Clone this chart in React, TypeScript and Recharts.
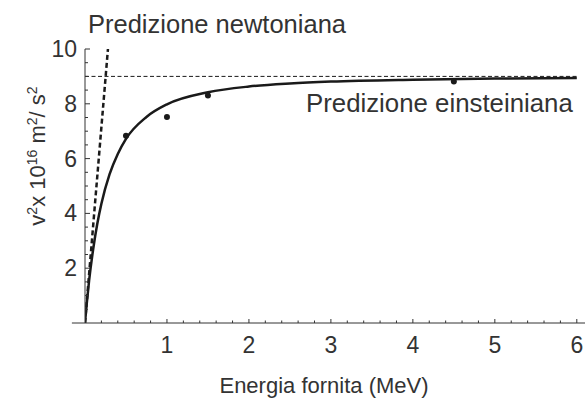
import React from "react";
import {
  ComposedChart,
  Line,
  Scatter,
  XAxis,
  YAxis,
  ReferenceLine,
} from "recharts";

// energia cinetica (MeV) e v^2 (x 10^16 m^2/s^2)
const curveEnergy = [0, 0.02, 0.05, 0.1, 0.15, 0.2, 0.3, 0.4, 0.5, 0.75, 1, 1.5, 2, 2.5, 3, 4, 5, 6];
const curveV2 = [0, 0.67, 1.55, 2.7, 3.62, 4.35, 5.43, 6.17, 6.72, 7.52, 7.98, 8.42, 8.63, 8.74, 8.81, 8.88, 8.92, 8.94];

const newtonEnergy = [0, 0.28];
const newtonV2 = [0, 10];

const measuredEnergy = [0.5, 1, 1.5, 4.5];
const measuredV2 = [6.83, 7.52, 8.3, 8.81];

const cSquared = 9;

const xMajor = [1, 2, 3, 4, 5, 6];
const yMajor = [2, 4, 6, 8, 10];
const xTicks = Array.from({ length: 30 }, (_, i) => Math.round((i + 1) * 2) / 10);
const yTicks = Array.from({ length: 20 }, (_, i) => (i + 1) / 2);

const FONT = "'Liberation Sans', Arial, sans-serif";
const TEXT = "#333333";
const INK = "#1a1a1a";

const curve = curveEnergy.map((x, i) => ({ x, y: curveV2[i] }));
const newton = newtonEnergy.map((x, i) => ({ x, y: newtonV2[i] }));
const measured = measuredEnergy.map((x, i) => ({ x, y: measuredV2[i] }));

function XTick(props: any) {
  const { x, y, payload } = props;
  const v = payload.value;
  const major = xMajor.some((m) => Math.abs(m - v) < 1e-6);
  return (
    <g>
      <line x1={x} x2={x} y1={y} y2={y - (major ? 4 : 2.5)} stroke={TEXT} strokeWidth={1} />
      {major && (
        <text x={x} y={y + 30} textAnchor="middle" fontFamily={FONT} fontSize={23} fill={TEXT}>
          {v}
        </text>
      )}
    </g>
  );
}

function YTick(props: any) {
  const { x, y, payload } = props;
  const v = payload.value;
  const major = yMajor.includes(v);
  return (
    <g>
      <line x1={x} x2={x + (major ? 5 : 3)} y1={y} y2={y} stroke={TEXT} strokeWidth={1} />
      {major && (
        <text x={x - 8} y={y + 8} textAnchor="end" fontFamily={FONT} fontSize={23} fill={TEXT}>
          {v}
        </text>
      )}
    </g>
  );
}

function Dot(props: any) {
  return <circle cx={props.cx} cy={props.cy} r={3} fill={INK} />;
}

export default function App() {
  return (
    <div style={{ position: "absolute", left: 0, top: 0, width: 585, height: 399, background: "#fff" }}>
      <ComposedChart
        width={585}
        height={399}
        margin={{ top: 49, right: 0, left: 0, bottom: 0 }}
      >
        <XAxis
          type="number"
          dataKey="x"
          domain={[0, 6.1]}
          ticks={xTicks}
          interval={0}
          height={76}
          tickSize={0}
          tickMargin={0}
          tickLine={false}
          tick={XTick}
          axisLine={{ stroke: TEXT, strokeWidth: 1 }}
          allowDataOverflow
        />
        <YAxis
          type="number"
          domain={[0, 10]}
          ticks={yTicks}
          interval={0}
          width={85}
          tickSize={0}
          tickMargin={0}
          tickLine={false}
          tick={YTick}
          axisLine={{ stroke: TEXT, strokeWidth: 1 }}
          allowDataOverflow
        />
        <ReferenceLine
          segment={[{ x: -0.16, y: 0 }, { x: 0, y: 0 }]}
          stroke={TEXT}
          strokeWidth={1}
          ifOverflow="visible"
        />
        <ReferenceLine
          segment={[{ x: 0, y: cSquared }, { x: 6, y: cSquared }]}
          stroke={INK}
          strokeWidth={1}
          strokeDasharray="4 2.5"
        />
        <Line
          data={newton}
          dataKey="y"
          type="linear"
          stroke={INK}
          strokeWidth={2.5}
          strokeDasharray="5 3"
          dot={false}
          isAnimationActive={false}
        />
        <Line
          data={curve}
          dataKey="y"
          type="monotone"
          stroke={INK}
          strokeWidth={2.5}
          dot={false}
          isAnimationActive={false}
        />
        <Scatter data={measured} dataKey="y" shape={Dot} isAnimationActive={false} />
        <text x={88} y={33} fontFamily={FONT} fontSize={25.5} fill={TEXT}>
          Predizione newtoniana
        </text>
        <text x={306} y={112} fontFamily={FONT} fontSize={25.8} fill={TEXT}>
          Predizione einsteiniana
        </text>
        <text x={324} y={393} textAnchor="middle" fontFamily={FONT} fontSize={22} fill={TEXT}>
          Energia fornita (MeV)
        </text>
        <text
          transform="translate(45,156) rotate(-90)"
          textAnchor="middle"
          fontFamily={FONT}
          fontSize={22}
          fill={TEXT}
        >
          v<tspan dy={-8} fontSize={14}>2</tspan>
          <tspan dy={8}>x 10</tspan>
          <tspan dy={-8} fontSize={14}>16</tspan>
          <tspan dy={8}> m</tspan>
          <tspan dy={-8} fontSize={14}>2</tspan>
          <tspan dy={8}>/ s</tspan>
          <tspan dy={-8} fontSize={14}>2</tspan>
        </text>
      </ComposedChart>
    </div>
  );
}
